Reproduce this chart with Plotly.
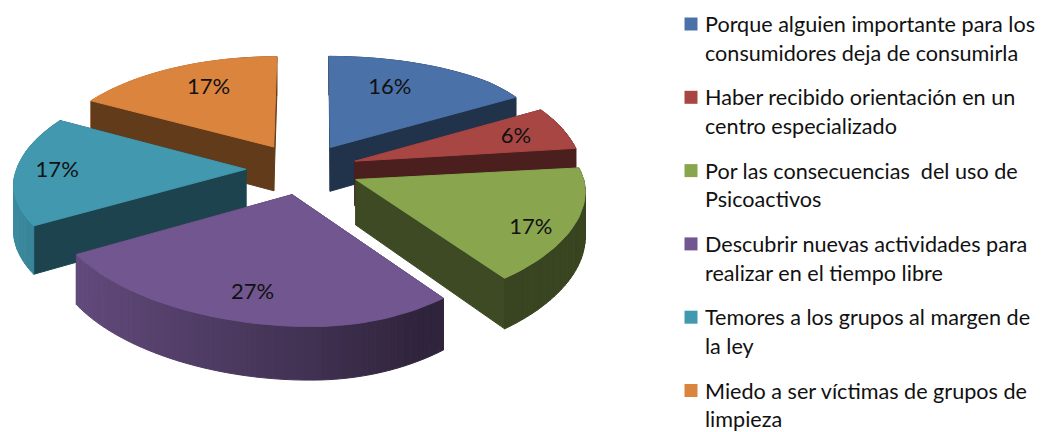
import math
import plotly.graph_objects as go

categories = [
    "Porque alguien importante para los<br>consumidores deja de consumirla",
    "Haber recibido orientación en un<br>centro especializado",
    "Por las consecuencias  del uso de<br>Psicoactivos",
    "Descubrir nuevas actividades para<br>realizar en el tiempo libre",
    "Temores a los grupos al margen de<br>la ley",
    "Miedo a ser víctimas de grupos de<br>limpieza",
]
values = [16, 6, 17, 27, 17, 17]
colors = ["#4A72A8", "#A84644", "#89A54E", "#71568F", "#4198AF", "#DB843D"]
pull = [0.24, 0.24, 0.24, 0.24, 0.24, 0.24]
label_r = [0.68, 0.77, 0.84, 0.80, 0.82, 0.70]
label_turn = [-5, 1, 6, 1.5, 0, 3]

W, H = 1051, 432
CX, CY, B, A, P, PX, DEPTH = 301, 168.5, 235, 107.2, 0.13, 0.13, 45
LEG_X, LEG_Y, LEG_STEP, LINE_STEP, SWATCH = 691, 24, 73.3, 28.6, 13
FONT = "Lato"


def project(u, v, z=0.0):
    s = 1 / (1 + P * v)
    sx = 1 / (1 + PX * v)
    right = min(1.0, max(0.0, u) / 0.1)
    left = 0.975 if u < 0 else 1.0
    c = 1 - 0.14 * max(0.0, -v) * right
    side = max(0.0, 1 - abs(v) / 0.9)
    x = CX + B * u * sx * c * left + 3 * right + 10 * max(0.0, u) * max(0.0, v) - 6 * max(0.0, u) * side
    y = CY - A * v * s + z * DEPTH * s + 9 * u * max(0.0, -v) + 10 * max(0.0, u) * side
    return x, y


def shade(hex_color, f):
    r, g, b = (int(hex_color[i:i + 2], 16) for i in (1, 3, 5))
    return f"rgb({int(r * f)},{int(g * f)},{int(b * f)})"


def polar(t):
    return math.sin(t), math.cos(t)


fig = go.Figure()
total = sum(values)
slices = []
start = 0.0
for val, col, e, lr, lt in zip(values, colors, pull, label_r, label_turn):
    span = 2 * math.pi * val / total
    mid = start + span / 2
    du, dv = polar(mid)
    slices.append(dict(t0=start, t1=start + span, mid=mid, ou=e * du, ov=e * dv, col=col, lr=lr, lt=lt, val=val))
    start += span


def poly(xs, ys, color):
    fig.add_trace(go.Scatter(x=xs + xs[:1], y=ys + ys[:1], mode="lines", fill="toself", fillcolor=color,
                             line=dict(color=color, width=1), hoverinfo="skip", showlegend=False))


for s in sorted(slices, key=lambda q: -q["ov"]):
    n = max(6, int((s["t1"] - s["t0"]) * 30))
    ts = [s["t0"] + (s["t1"] - s["t0"]) * i / n for i in range(n + 1)]
    pts = [(s["ou"] + polar(t)[0], s["ov"] + polar(t)[1]) for t in ts]
    apex = (s["ou"], s["ov"])
    walls = []
    for p in (pts[0], pts[-1]):
        walls.append(((apex, p), 0.45))
    for i in range(n):
        nu = math.sin((ts[i] + ts[i + 1]) / 2)
        walls.append(((pts[i], pts[i + 1]), max(0.42, 0.6 - 0.33 * nu)))
    walls.sort(key=lambda w: -(w[0][0][1] + w[0][1][1]))
    for (p, q), f in walls:
        a, b = project(*p), project(*q)
        c, d = project(*q, 1), project(*p, 1)
        poly([a[0], b[0], c[0], d[0]], [a[1], b[1], c[1], d[1]], shade(s["col"], f))
    top = [project(*apex)] + [project(*p) for p in pts]
    poly([p[0] for p in top], [p[1] for p in top], s["col"])

for s in slices:
    du, dv = polar(s["mid"] + math.radians(s["lt"]))
    x, y = project(s["ou"] + s["lr"] * du, s["ov"] + s["lr"] * dv)
    fig.add_trace(go.Scatter(x=[x], y=[y], mode="text", text=[f"{s['val']}%"],
                             textfont=dict(family=FONT, size=22, color="#111111"),
                             hoverinfo="skip", showlegend=False))

annotations = []
for i, (name, col) in enumerate(zip(categories, colors)):
    y = LEG_Y + i * LEG_STEP
    fig.add_trace(go.Scatter(x=[LEG_X], y=[y], mode="markers", name=name.replace("<br>", " "),
                             marker=dict(symbol="square", size=SWATCH, color=col, line=dict(width=0)),
                             showlegend=False, hoverinfo="name"))
    for j, line in enumerate(name.split("<br>")):
        annotations.append(dict(x=LEG_X + 13, y=y + j * LINE_STEP, xref="x", yref="y", text=line, showarrow=False,
                                xanchor="left", yanchor="middle", align="left", borderpad=0,
                                font=dict(family=FONT, size=21.6, color="#111111")))

fig.update_layout(
    width=W, height=H, margin=dict(l=0, r=0, t=0, b=0),
    paper_bgcolor="white", plot_bgcolor="white", showlegend=False,
    xaxis=dict(range=[0, W], visible=False, fixedrange=True),
    yaxis=dict(range=[H, 0], visible=False, fixedrange=True),
    annotations=annotations,
)
fig.write_html("out.html", config={"displayModeBar": False}, post_script="document.body.style.margin='0';")
